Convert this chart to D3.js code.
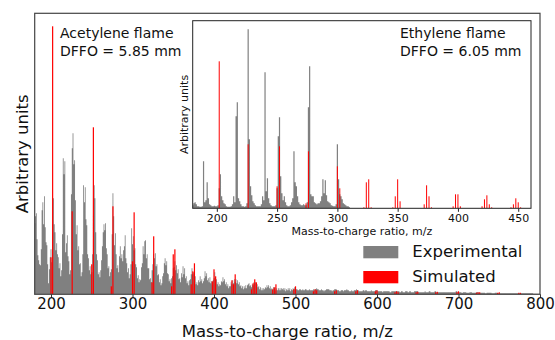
<!DOCTYPE html>
<html><head><meta charset="utf-8">
<script src="https://cdn.jsdelivr.net/npm/d3@7"></script>
<style>body{margin:0;background:#fff} svg{display:block} text{font-family:"DejaVu Sans",sans-serif;fill:#111}</style>
</head><body><svg id="c" width="555" height="340"></svg>
<script>
// ---------------- DATA ----------------
// Main panel (acetylene flame): experimental signal, one value per integer m/z starting at 180
const mainStart = 180;
const expMain180 = [71,78,81,55,39,34,30,29,45,84,92,70,98,67,52,49,30,11,25,37,
  45,32,74,96,70,62,44,51,40,37,26,31,18,24,60,136,120,133,42,51,
  59,38,33,20,24,100,146,161,130,134,94,60,69,44,48,30,31,18,22,40,
  109,92,107,75,69,40,36,24,28,20,22,40,80,109,96,62,40,34,20,22,
  17,24,34,48,62,70,64,71,46,40,26,28,18,22,25,60,101,78,49,61,
  40,26,29,22,38,48,36,40,33,44,48,59,36,31,22,26,16,20,30,66];
const expMain300 = [50,58,44,46,30,27,16,19,12,15,14,27,31,48,40,53,54,36,40,26,
  26,15,16,12,24,30,40,36,41,28,30,19,20,12,15,9,11,18,21,31,
  36,29,33,21,20,13,15,11,16,18,26,27,33,24,29,21,25,15,16,12,
  21,17,28,20,26,16,18,11,13,9,14,15,20,26,20,22,17,18,10,12,
  9,14,12,18,13,15,11,13,16,23,18,21,14,16,12,17,11,13,9,14];
const expMain400 = [16,22,14,15,10,12,8,10,9,13,12,17,13,15,10,12,8,10,6,8,
  8,12,10,14,11,15,12,15,11,14,10,12,8,9,6,8,5,8,6,9,
  6,9,10,11,8,9,7,10,9,12,11,12,9,10,7,8,5,7,4,6,
  4,6,5,7,6,9,7,9,6,8,5,6,4,7,5,7,4,6,4,6,
  4,6,4,6,5,6,4,6,3,5,4,6,4,6,3,5,4,6,5,7];
const expMain500 = [6,5,5,4,4,5,5,4,4,5,4,4,5,5,4,4,4,5,4,4,
  4,4,5,4,5,5,6,5,5,4,4,4,5,4,4,3,4,4,5,5,
  5,5,4,4,4,3,4,4,5,5,5,4,4,4,3,3,4,4,4,3,
  4,4,4,5,4,4,3,3,3,4,3,3,4,4,4,5,4,4,3,3,
  3,3,3,4,4,3,4,4,3,3,3,3,3,4,3,3,3,3,4,4];
const expMain600 = [4,3,3,3,3,3,3,2,3,3,3,3,3,3,3,3,2,2,3,3,
  3,3,3,3,3,3,3,3,2,2,3,3,2,2,2,3,3,3,2,2,
  3,3,2,2,2,2,3,3,3,3,3,2,2,2,2,2,2,2,2,3,
  2,2,2,2,3,3,2,2,2,2,2,3,3,2,2,2,2,2,2,2,
  2,2,2,2,2,2,2,2,2,2,2,2,2,2,2,2,2,3,3,2];
const expMain700 = [2,2,2,2,1.5,1.5,2,2,2,2,1.5,1.5,1.5,1.5,2,2,2,1.5,1.5,1.5,
  1.5,1.5,2,2,2,1.5,1.5,1.5,1.5,1.5,1.5,1.5,1.5,1,1,1.5,1.5,1.5,1.5,1.5,
  1.5,1,1,1,1,1.5,1.5,1.5,1,1,1,1,1,1,1,1,1,1,1,1,
  1,1,1,1,1,1,1,1,1,1,1,1,1,1,1,1,1,1,1,1,
  1,1,1,1,1,1,1,1,1,1,1,1,0.5,0.5,0.5,0.5,0.5,0.5,0.5,0.5,0.5];
// Main panel: simulated peaks
const simMainMz  = [200,202,226,250,252,274,276,300,302,324,326,348,350,352,372,374,376,398,400,402,
  422,424,426,446,448,450,452,472,474,476,498,500,522,524,526,548,550,574,576,598,600,
  622,624,626,648,650,672,674,698,700,722,724,726,748,750,774,776];
const simMainVal = [37,268,83,30,167,8,88,33,82,12,58,8,40,45,10,23,31,13,25,18,
  14,10,20,5,11,15,12,5,7,10,5,8,3,5,4,3,4,3,4,3,4,
  2,3,2,2,2.5,2,2.5,2,3,1.5,2,2,1.5,2,1.5,1.5];
const mainTicks = [200,300,400,500,600,700,800];

// Inset (ethylene flame): experimental, one value per integer m/z from 180 to 310
const insetStart = 180;
const expInset = [3,5,6,4,2,2,1.5,1.5,2,47,6,8,26,10,4,3,2,2,2.5,2,
  2,3,20,34,12,8,5,4,2,1.5,1.5,1.5,2,4,12,6,92,106,10,7,
  4,2,2,1.5,2,5,179,69,22,13,7,5,3,2,2,2,2,4,12,8,
  136,17,30,10,5,3,2,2,2,3,20,72,91,32,15,8,12,6,3,2,
  2,3,6,10,57,26,22,12,6,4,3,3,4,3,3,6,101,142,14,12,
  12,6,5,4,5,5,7,12,29,15,28,13,7,6,5,3,2.5,2,2,4,
  64,29,14,12,9,5,4,3,2,2,1];
const simInsetMz  = [202,226,250,252,274,276,300,302,322,324,326,328,346,348,350,352,372,374,376,378,
  396,398,400,402,420,422,424,426,428,444,446,448,450,452];
const simInsetVal = [147,64,22,62,5,57,42,20,1,26,29,1,1,12,29,7,4,23,12,1,
  2,14,14,2,2,9,13,4,1,1,4,10,6,1];
const insetTicks = [200,250,300,350,400,450];

// ---------------- DRAW ----------------
const GRAY = "#808080", RED = "#ff0000";
const svg = d3.select("#c");
const M = {l:34.7, r:540, t:13.3, b:294.3};
const I = {l:192.7, r:531, t:20.7, b:208.3};

const xM = d3.scaleLinear().domain([180, 800]).range([M.l, M.r]);
const yM = d3.scaleLinear().domain([0, 281]).range([M.b, M.t]);
const xI = d3.scaleLinear().domain([180, 460.6]).range([I.l, I.r]);
const yI = d3.scaleLinear().domain([0, 187.6]).range([I.b, I.t]);

const defs = svg.append("defs");
defs.append("clipPath").attr("id","clipM").append("rect")
  .attr("x",M.l).attr("y",M.t).attr("width",M.r-M.l).attr("height",M.b-M.t);
defs.append("clipPath").attr("id","clipI").append("rect")
  .attr("x",I.l).attr("y",I.t).attr("width",I.r-I.l).attr("height",I.b-I.t);

function barsPath(data, x, y, start) {
  const p = d3.path();
  data.forEach((v, i) => {
    const m = start + i;
    const x0 = x(m - 0.5), x1 = x(m + 0.5);
    p.rect(x0, y(v), x1 - x0, y(0) - y(v));
  });
  return p.toString();
}

const expMain = [].concat(expMain180, expMain300, expMain400, expMain500, expMain600, expMain700);
const gM = svg.append("g").attr("clip-path","url(#clipM)");
gM.append("path").attr("d", barsPath(expMain, xM, yM, mainStart)).attr("fill", GRAY);
gM.selectAll("rect.sim").data(simMainMz.map((m,i)=>({m, v:simMainVal[i]}))).join("rect")
  .attr("class","sim")
  .attr("x", d => xM(d.m) - 0.6).attr("width", 1.2)
  .attr("y", d => yM(d.v)).attr("height", d => yM(0) - yM(d.v))
  .attr("fill", RED);

// main frame
svg.append("rect").attr("x",M.l).attr("y",M.t).attr("width",M.r-M.l).attr("height",M.b-M.t)
  .attr("fill","none").attr("stroke","#444").attr("stroke-width",1.2);

// main x axis
const axM = svg.append("g").attr("transform",`translate(0,${M.b})`)
  .call(d3.axisBottom(xM).tickValues(mainTicks).tickSize(3.5).tickPadding(0.5).tickFormat(d3.format("d")));
axM.select(".domain").remove();
axM.selectAll("line").attr("stroke","#333");
axM.selectAll("text").attr("font-size",15).attr("font-family","DejaVu Sans").attr("fill","#111");

svg.append("text").attr("x",(M.l+M.r)/2).attr("y",336.7).attr("text-anchor","middle")
  .attr("font-size",16.5).text("Mass-to-charge ratio, m/z");
svg.append("text").attr("transform",`translate(27.7,${(M.t+M.b)/2}) rotate(-90)`)
  .attr("text-anchor","middle").attr("font-size",16.5).text("Arbitrary units");

svg.append("text").attr("x",60).attr("y",37.7).attr("font-size",14).text("Acetylene flame");
svg.append("text").attr("x",60).attr("y",56.3).attr("font-size",14).text("DFFO = 5.85 mm");

// legend
const legend = [{label:"Experimental", c:GRAY, y:246}, {label:"Simulated", c:RED, y:271}];
const lg = svg.append("g");
legend.forEach(d => {
  lg.append("rect").attr("x",363.3).attr("y",d.y).attr("width",35).attr("height",12.3).attr("fill",d.c);
  lg.append("text").attr("x",412.3).attr("y",d.y+11.3).attr("font-size",16.5).text(d.label);
});

// ---------------- INSET ----------------
svg.append("rect").attr("x",I.l).attr("y",I.t).attr("width",I.r-I.l).attr("height",I.b-I.t).attr("fill","#fff");
const gI = svg.append("g").attr("clip-path","url(#clipI)");
gI.append("path").attr("d", barsPath(expInset, xI, yI, insetStart)).attr("fill", GRAY);
gI.selectAll("rect.sim").data(simInsetMz.map((m,i)=>({m, v:simInsetVal[i]}))).join("rect")
  .attr("class","sim")
  .attr("x", d => xI(d.m) - 0.5).attr("width", 1)
  .attr("y", d => yI(d.v)).attr("height", d => yI(0) - yI(d.v))
  .attr("fill", RED);
svg.append("rect").attr("x",I.l).attr("y",I.t).attr("width",I.r-I.l).attr("height",I.b-I.t)
  .attr("fill","none").attr("stroke","#222").attr("stroke-width",1);

const axI = svg.append("g").attr("transform",`translate(0,${I.b})`)
  .call(d3.axisBottom(xI).tickValues(insetTicks).tickSize(3.5).tickPadding(2.5).tickFormat(d3.format("d")));
axI.select(".domain").remove();
axI.selectAll("line").attr("stroke","#222");
axI.selectAll("text").attr("font-size",11).attr("font-family","DejaVu Sans").attr("fill","#111");

svg.append("text").attr("x",(I.l+I.r)/2).attr("y",235).attr("text-anchor","middle")
  .attr("font-size",11).text("Mass-to-charge ratio, m/z");
svg.append("text").attr("transform",`translate(188.3,${(I.t+I.b)/2}) rotate(-90)`)
  .attr("text-anchor","middle").attr("font-size",11).text("Arbitrary units");

svg.append("text").attr("x",400).attr("y",37.7).attr("font-size",14).text("Ethylene flame");
svg.append("text").attr("x",400).attr("y",55.7).attr("font-size",14).text("DFFO = 6.05 mm");
</script></body></html>
